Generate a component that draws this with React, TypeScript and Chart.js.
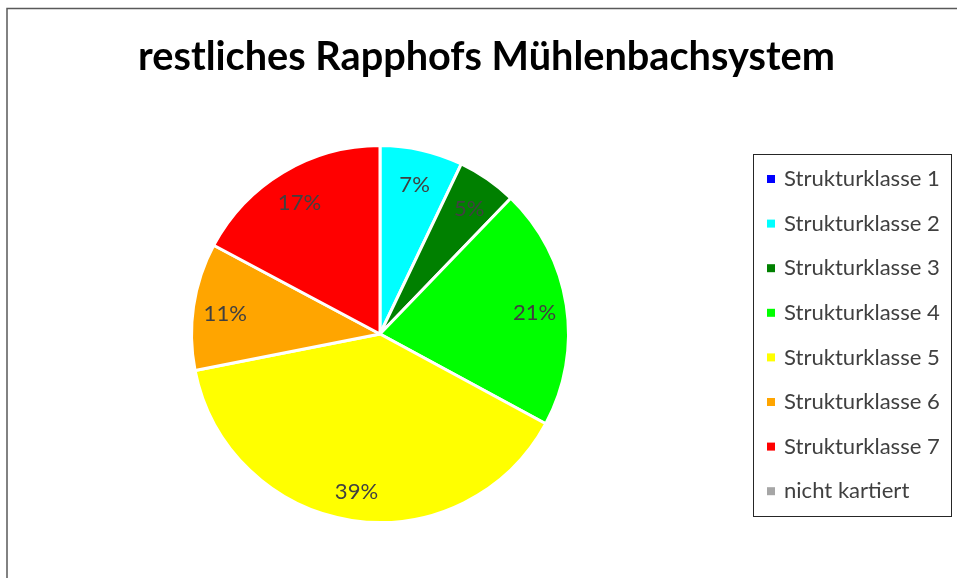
import React, { useEffect, useRef } from "react";
import { Chart, registerables } from "chart.js";

Chart.register(...registerables);

const TITLE = "restliches Rapphofs Mühlenbachsystem";
const categories = [
  "Strukturklasse 1",
  "Strukturklasse 2",
  "Strukturklasse 3",
  "Strukturklasse 4",
  "Strukturklasse 5",
  "Strukturklasse 6",
  "Strukturklasse 7",
  "nicht kartiert",
];
const shares = [0, 7.1, 5.1, 20.7, 39.0, 10.9, 17.2, 0];
const colors = [
  "#0000FF",
  "#00FFFF",
  "#008000",
  "#00FF00",
  "#FFFF00",
  "#FFA500",
  "#FF0000",
  "#A6A6A6",
];

const FONT = "Lato, 'Open Sans', 'Liberation Sans', sans-serif";

function fitFont(ctx: CanvasRenderingContext2D, text: string, weight: string, targetW: number) {
  ctx.font = `${weight} 20px ${FONT}`;
  const w = ctx.measureText(text).width;
  return (20 * targetW) / w;
}

const overlay = {
  id: "overlay",
  afterDraw(chart: any) {
    const ctx: CanvasRenderingContext2D = chart.ctx;
    ctx.save();
    // outer frame (left & top)
    ctx.strokeStyle = "#595959";
    ctx.lineWidth = 1.5;
    ctx.beginPath();
    ctx.moveTo(7, 578);
    ctx.lineTo(7, 8.5);
    ctx.lineTo(957, 8.5);
    ctx.stroke();

    // title
    const ts = fitFont(ctx, TITLE, "bold", 697);
    ctx.font = `bold ${ts}px ${FONT}`;
    ctx.fillStyle = "#000000";
    ctx.textAlign = "center";
    ctx.textBaseline = "alphabetic";
    ctx.fillText(TITLE, 486.5, 70);

    // percent labels
    const meta = chart.getDatasetMeta(0);
    const data = chart.data.datasets[0].data as number[];
    const total = data.reduce((a, b) => a + b, 0);
    const ls = fitFont(ctx, "Strukturklasse 1", "normal", 156);
    ctx.font = `normal ${ls}px ${FONT}`;
    ctx.fillStyle = "#404040";
    ctx.textBaseline = "middle";
    meta.data.forEach((arc: any, i: number) => {
      if (!data[i]) return;
      const p = arc.getProps(["x", "y", "startAngle", "endAngle", "outerRadius"], true);
      const mid = (p.startAngle + p.endAngle) / 2;
      const r = p.outerRadius * 0.83;
      const x = p.x + Math.cos(mid) * r;
      const y = p.y + Math.sin(mid) * r + 3;
      ctx.fillText(Math.round((data[i] / total) * 100) + "%", x, y);
    });

    // legend
    ctx.strokeStyle = "#262626";
    ctx.lineWidth = 1;
    ctx.strokeRect(753.5, 154.5, 198, 362);
    ctx.textAlign = "left";
    categories.forEach((c, i) => {
      const y = 179 + i * 44.6;
      ctx.fillStyle = colors[i];
      ctx.fillRect(767, y - 4, 8, 8);
      ctx.fillStyle = "#404040";
      ctx.fillText(c, 784, y);
    });
    ctx.restore();
  },
};

export default function App() {
  const ref = useRef<HTMLCanvasElement>(null);
  useEffect(() => {
    document.body.style.overflow = "hidden";
    const chart = new Chart(ref.current!, {
      type: "pie",
      data: {
        labels: categories,
        datasets: [
          {
            data: shares,
            backgroundColor: colors,
            borderColor: "#FFFFFF",
            borderWidth: 3,
          },
        ],
      },
      options: {
        animation: false,
        responsive: false,
        maintainAspectRatio: false,
        layout: { padding: { left: 190, right: 387, top: 144, bottom: 54 } },
        plugins: {
          legend: { display: false },
          title: { display: false },
          tooltip: { enabled: false },
        },
      },
      plugins: [overlay],
    });
    return () => chart.destroy();
  }, []);
  return (
    <canvas
      ref={ref}
      width={957}
      height={578}
      style={{ position: "fixed", left: 0, top: 0, width: 957, height: 578, background: "#fff" }}
    />
  );
}
